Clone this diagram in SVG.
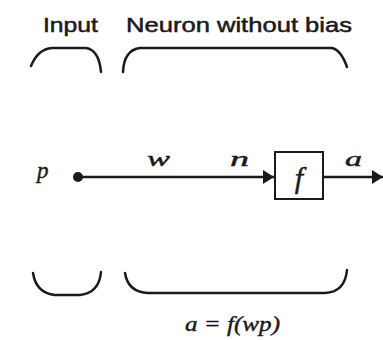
<svg xmlns="http://www.w3.org/2000/svg" width="383" height="340" viewBox="0 0 383 340">
<style>
.hdr{font-family:"Liberation Sans",Arial,sans-serif;font-size:21px;fill:#1a1a1a;stroke:#1a1a1a;stroke-width:0.5}
.m{font-family:"Liberation Serif","Times New Roman",serif;font-style:italic;font-size:21px;fill:#1a1a1a;stroke:#1a1a1a;stroke-width:0.4}
.br{fill:none;stroke:#1a1a1a;stroke-width:2.5;stroke-linecap:round}
.ln{fill:none;stroke:#1a1a1a;stroke-width:2.5}
</style>
<defs>
<marker id="ah" markerWidth="11" markerHeight="14" refX="11" refY="7" orient="auto" markerUnits="userSpaceOnUse">
<path d="M0,0 L11,7 L0,14 Z" fill="#1a1a1a"/>
</marker>
</defs>
<rect width="383" height="340" fill="#fff"/>
<g id="labels">
<text class="hdr" x="43" y="32" textLength="55" lengthAdjust="spacingAndGlyphs">Input</text>
<text class="hdr" x="126" y="32" textLength="226" lengthAdjust="spacingAndGlyphs">Neuron without bias</text>
</g>
<g id="brackets">
<path class="br" d="M31,66 Q38,49 52,48 L86,48 Q99,50 101,72"/>
<path class="br" d="M123,72 Q124,50 140,48 L332,48 Q341,50 347,67"/>
<path class="br" d="M33,273 Q36,293 55,295 L80,295 Q99,293 101,272"/>
<path class="br" d="M125,273 Q128,292 148,293 L325,293 Q345,292 347,270"/>
</g>
<g id="input-p">
<text class="m" x="37" y="178" style="font-size:23px">p</text>
<circle cx="78" cy="177" r="5" fill="#1a1a1a"/>
</g>
<g id="neuron-f">
<rect x="275" y="152" width="48" height="47" fill="#fff" stroke="#1a1a1a" stroke-width="2"/>
<text class="m" x="299" y="188" text-anchor="middle" style="font-size:30px">f</text>
</g>
<g id="connectors">
<line class="ln" x1="78" y1="177" x2="274" y2="177" marker-end="url(#ah)"/>
<line class="ln" x1="323" y1="177" x2="383" y2="177" marker-end="url(#ah)"/>
</g>
<g id="edge-labels">
<text class="m" x="147" y="166" textLength="23" lengthAdjust="spacingAndGlyphs">w</text>
<text class="m" x="230" y="166" textLength="19" lengthAdjust="spacingAndGlyphs">n</text>
<text class="m" x="345" y="166" textLength="17" lengthAdjust="spacingAndGlyphs">a</text>
<text class="m" x="185" y="331" textLength="95" lengthAdjust="spacingAndGlyphs">a = f(wp)</text>
</g>
</svg>
